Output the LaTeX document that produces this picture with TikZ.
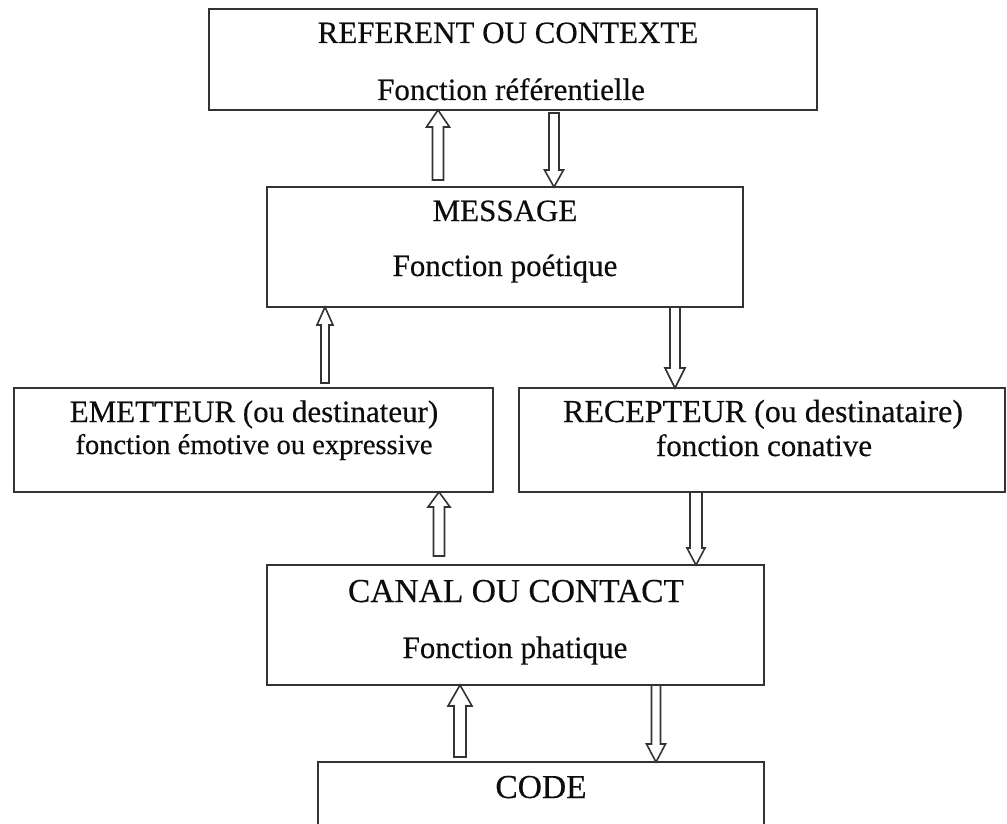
\documentclass[tikz,border=0pt]{standalone}
\usepackage{fontspec}
\setmainfont{Liberation Serif}
\newfontfamily\lblfont{Liberation Serif}[FakeBold=0.35]
\usetikzlibrary{calc}
\tikzset{
  box/.style={draw=black!80, line width=1.8pt, rectangle, inner sep=0pt, outer sep=0pt},
  lbl/.style={anchor=base, inner sep=0pt, font=\lblfont\fontsize{31}{36}\selectfont, text=black!95},
  blockarrow/.style={draw=black!80, line width=1.6pt, fill=white, line join=miter},
}
% #1 start coordinate name, #2 tip coordinate name, #3 half shaft, #4 half head, #5 head length
\newcommand\blockup[5]{%
  \draw[blockarrow] ($(#1)+(-#3,0)$) -- ($(#2)+(-#3,-#5)$) -- ($(#2)+(-#4,-#5)$) -- (#2)
    -- ($(#2)+(#4,-#5)$) -- ($(#2)+(#3,-#5)$) -- ($(#1)+(#3,0)$) -- cycle;}
\newcommand\blockdown[5]{%
  \draw[blockarrow] ($(#1)+(-#3,0)$) -- ($(#2)+(-#3,#5)$) -- ($(#2)+(-#4,#5)$) -- (#2)
    -- ($(#2)+(#4,#5)$) -- ($(#2)+(#3,#5)$) -- ($(#1)+(#3,0)$) -- cycle;}
\begin{document}
\begin{tikzpicture}[x=1pt,y=1pt]
\useasboundingbox (0,0) rectangle (1007,-824);
\clip (0,0) rectangle (1007,-824);
\fill[white] (0,0) rectangle (1007,-824);
% boxes
\node[box, minimum width=608pt, minimum height=101pt] (referent) at (513,-59.5) {};
\node[box, minimum width=476pt, minimum height=120pt] (message) at (505,-247) {};
\node[box, minimum width=479pt, minimum height=104pt] (emetteur) at (253.5,-440) {};
\node[box, minimum width=486pt, minimum height=104pt] (recepteur) at (762,-440) {};
\node[box, minimum width=497pt, minimum height=120pt] (canal) at (515.5,-625) {};
\node[box, minimum width=446pt, minimum height=90pt] (code) at (541,-807) {};
% texts
\node[lbl] (referentA) at (508,-43) {REFERENT OU CONTEXTE};
\node[lbl] (referentB) at (511,-100) {Fonction référentielle};
\node[lbl] (messageA) at (505,-221) {MESSAGE};
\node[lbl] (messageB) at (505,-276) {Fonction poétique};
\node[lbl] (emetteurA) at (254,-422) {EMETTEUR (ou destinateur)};
\node[lbl, font=\lblfont\fontsize{28.5}{34}\selectfont] (emetteurB) at (254,-454) {fonction émotive ou expressive};
\node[lbl, font=\lblfont\fontsize{32}{38}\selectfont] (recepteurA) at (763,-422) {RECEPTEUR (ou destinataire)};
\node[lbl] (recepteurB) at (764,-456) {fonction conative};
\node[lbl, font=\lblfont\fontsize{33.5}{40}\selectfont] (canalA) at (516,-602) {CANAL OU CONTACT};
\node[lbl] (canalB) at (515,-658) {Fonction phatique};
\node[lbl, font=\lblfont\fontsize{33.5}{40}\selectfont] (codeA) at (541,-798) {CODE};
% arrow x positions
\coordinate (xa) at (438,0);
\coordinate (xb) at (554,0);
\coordinate (xc) at (325,0);
\coordinate (xd) at (675,0);
\coordinate (xe) at (439,0);
\coordinate (xf) at (696,0);
\coordinate (xg) at (460,0);
\coordinate (xh) at (656,0);
% arrow end points, taken on the boxes
\coordinate (a1s) at ($(message.north -| xa)+(0,7)$);
\coordinate (a1t) at (referent.south -| xa);
\coordinate (a2s) at ($(referent.south -| xb)+(0,-3)$);
\coordinate (a2t) at (message.north -| xb);
\coordinate (a3s) at ($(emetteur.north -| xc)+(0,5)$);
\coordinate (a3t) at (message.south -| xc);
\coordinate (a4s) at (message.south -| xd);
\coordinate (a4t) at (recepteur.north -| xd);
\coordinate (a5s) at ($(canal.north -| xe)+(0,9)$);
\coordinate (a5t) at (emetteur.south -| xe);
\coordinate (a6s) at (recepteur.south -| xf);
\coordinate (a6t) at (canal.north -| xf);
\coordinate (a7s) at ($(code.north -| xg)+(0,5)$);
\coordinate (a7t) at (canal.south -| xg);
\coordinate (a8s) at (canal.south -| xh);
\coordinate (a8t) at (code.north -| xh);
% block arrows
\blockup{a1s}{a1t}{5.5}{11.5}{17}
\blockdown{a2s}{a2t}{5}{9.5}{17}
\blockup{a3s}{a3t}{4}{8}{18}
\blockdown{a4s}{a4t}{5}{10}{20}
\blockup{a5s}{a5t}{5.5}{11}{15}
\blockdown{a6s}{a6t}{6}{9}{17}
\blockup{a7s}{a7t}{6}{12}{21}
\blockdown{a8s}{a8t}{4.5}{9.5}{18}
\end{tikzpicture}
\end{document}
